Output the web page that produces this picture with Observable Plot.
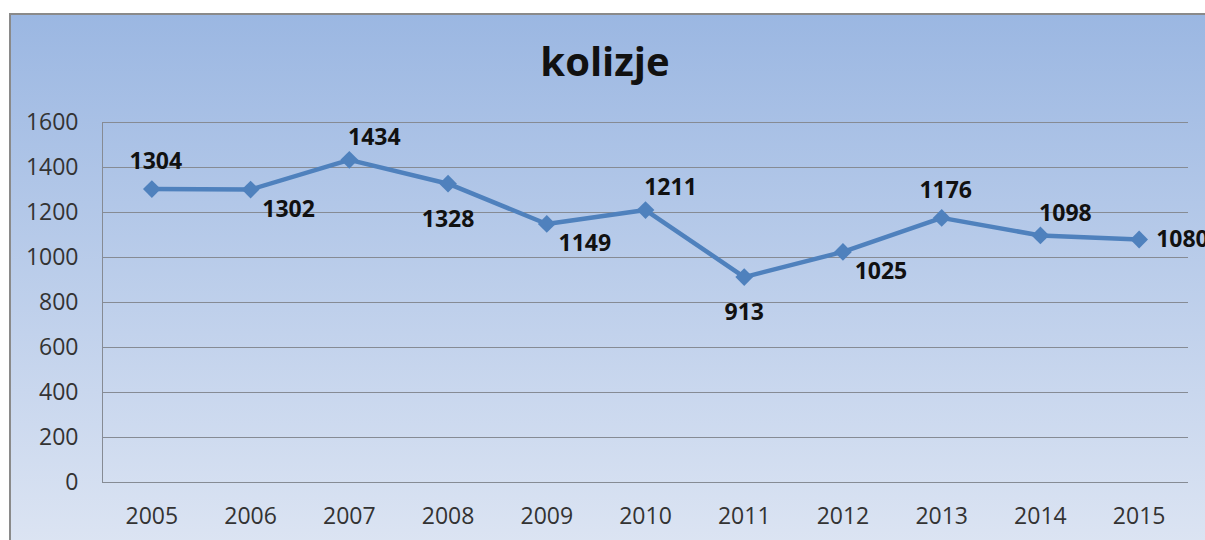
<!DOCTYPE html>
<html><head><meta charset="utf-8">
<script src="https://cdn.jsdelivr.net/npm/d3@7"></script>
<script src="https://cdn.jsdelivr.net/npm/@observablehq/plot@0.6"></script>
<style>
html,body{margin:0;padding:0;background:#fff;overflow:hidden;width:1205px;height:540px}
#frame{position:absolute;left:9px;top:13px;width:1210px;height:540px;border:2px solid #8a8a8a;background:linear-gradient(#9bb7e2,#dde5f3)}
#title{width:1188px;height:80px;text-align:center;font-family:"Open Sans";font-weight:bold;font-size:40px;line-height:92px;color:#111;overflow:visible}
#chart svg{display:block}
</style></head>
<body>
<div id="frame"><div id="title">kolizje</div><div id="chart"></div></div>
<script>
const years = ["2005","2006","2007","2008","2009","2010","2011","2012","2013","2014","2015"];
const collisions = [1304,1302,1434,1328,1149,1211,913,1025,1176,1098,1080];
const labelPlacement = ["top","bottomRight","topRight","bottom","bottomRight","topRight","bottom","bottomRight","top","topRight","right"];
const yTicks = [0,200,400,600,800,1000,1200,1400,1600];

const data = years.map((y,i)=>({year:y, value:collisions[i], place:labelPlacement[i]}));
const offsets = {
  top:{dx:4,dy:-27,textAnchor:"middle"},
  topRight:{dx:25,dy:-22,textAnchor:"middle"},
  bottomRight:{dx:38,dy:20,textAnchor:"middle"},
  bottom:{dx:0,dy:36,textAnchor:"middle"},
  right:{dx:17,dy:0,textAnchor:"start"}
};
const blue = "#4f81bd";
const labelMarks = Object.entries(offsets).map(([k,o]) =>
  Plot.text(data.filter(d=>d.place===k), {x:"year", y:"value", text:d=>String(d.value),
    dx:o.dx, dy:o.dy, textAnchor:o.textAnchor, fontSize:23, fontWeight:"bold", fill:"#111"}));

const chart = Plot.plot({
  width:1194, height:445,
  marginLeft:91, marginRight:17, marginTop:27, marginBottom:58,
  style:{fontFamily:"Open Sans", fontSize:"23px", color:"#333", background:"transparent", overflow:"visible"},
  x:{type:"point", domain:years, padding:0.5, round:false, label:null},
  y:{domain:[0,1600], label:null},
  marks:[
    Plot.gridY(yTicks, {stroke:"#868b94", strokeOpacity:1, strokeWidth:1}),
    Plot.frame({anchor:"left", stroke:"#868b94"}),
    Plot.axisY(yTicks, {tickSize:0, tickPadding:24, tickFormat:d=>String(d), label:null}),
    Plot.axisX({tickSize:0, tickPadding:25, label:null}),
    Plot.line(data, {x:"year", y:"value", stroke:blue, strokeWidth:4.5}),
    Plot.dot(data, {x:"year", y:"value", symbol:"diamond2", r:8, fill:blue, stroke:null}),
    ...labelMarks
  ]
});
document.getElementById("chart").appendChild(chart);
</script>
</body></html>
